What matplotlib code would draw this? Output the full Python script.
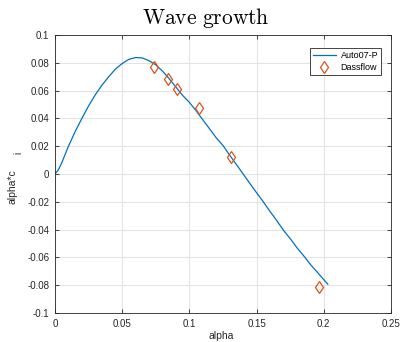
import matplotlib
matplotlib.use("Agg")
import matplotlib.pyplot as plt
from matplotlib.ticker import FuncFormatter, MultipleLocator

# Auto07-P continuation curve
alpha_curve = [0.0, 0.0025, 0.005, 0.0075, 0.01, 0.015, 0.02, 0.025, 0.03, 0.035,
               0.04, 0.045, 0.05, 0.055, 0.06, 0.065, 0.07, 0.075, 0.08, 0.085,
               0.09, 0.095, 0.10, 0.105, 0.11, 0.115, 0.12, 0.125, 0.13, 0.135,
               0.14, 0.145, 0.15, 0.155, 0.16, 0.165, 0.17, 0.175, 0.18, 0.185,
               0.19, 0.195, 0.20, 0.203]
growth_curve = [0.0, 0.003, 0.008, 0.014, 0.020, 0.0305, 0.040, 0.049, 0.057, 0.064,
                0.070, 0.0755, 0.0795, 0.0825, 0.0838, 0.0835, 0.0815, 0.0785, 0.074, 0.0685,
                0.0625, 0.0565, 0.0515, 0.0455, 0.039, 0.0325, 0.026, 0.0205, 0.0135, 0.0068,
                0.0, -0.0068, -0.0135, -0.020, -0.027, -0.0335, -0.0405, -0.0465, -0.053, -0.0588,
                -0.065, -0.0705, -0.076, -0.0793]

# Dassflow points
alpha_dass = [0.0737, 0.0844, 0.0911, 0.1075, 0.131, 0.1968]
growth_dass = [0.0768, 0.0681, 0.0609, 0.0472, 0.0122, -0.081]


def tick_fmt(v, _pos):
    v = round(v, 10)
    if v == 0:
        return "0"
    return f"{v:g}".replace("\u2212", "-")


W, H = 401, 342
fig = plt.figure(figsize=(W / 100, H / 100), dpi=100)
ax = fig.add_axes([55 / W, 1 - 313 / H, (391 - 55) / W, (313 - 35) / H])

plt.rcParams["mathtext.fontset"] = "cm"
plt.rcParams["axes.unicode_minus"] = False
font = "Liberation Sans"

ax.plot(alpha_curve, growth_curve, color="#0072BD", linewidth=0.9, label="Auto07-P")
ax.plot(alpha_dass, growth_dass, linestyle="none", marker="d", markersize=6.5,
        markerfacecolor="none", markeredgecolor="#D95319", markeredgewidth=0.9,
        label="Dassflow")

ax.set_xlim(0, 0.25)
ax.set_ylim(-0.1, 0.1)
ax.xaxis.set_major_locator(MultipleLocator(0.05))
ax.yaxis.set_major_locator(MultipleLocator(0.02))
ax.xaxis.set_major_formatter(FuncFormatter(tick_fmt))
ax.yaxis.set_major_formatter(FuncFormatter(tick_fmt))
ax.grid(True, color="#e3e3e3", linewidth=0.8)
ax.set_axisbelow(True)
ax.tick_params(direction="in", length=3, width=0.6, colors="#262626",
               top=True, right=True, labelsize=7, pad=4)
for lab in ax.get_xticklabels() + ax.get_yticklabels():
    lab.set_fontfamily(font)
for sp in ax.spines.values():
    sp.set_color("#262626")
    sp.set_linewidth(0.6)

leg = ax.legend(loc="upper right", bbox_to_anchor=(0.985, 0.97), fancybox=False,
                framealpha=1, edgecolor="#262626", prop={"family": font, "size": 6.5},
                handlelength=2.6, borderpad=0.35, labelspacing=0.3, handletextpad=0.5)
leg.get_frame().set_linewidth(0.6)

fig.text(206 / W, 1 - 18 / H, r"$\mathrm{Wave\ growth}$", ha="center", va="center",
         fontsize=15.5)
fig.text(221 / W, 1 - 336 / H, "alpha", ha="center", va="center", fontsize=7.5,
         family=font, color="#262626")
fig.text(12 / W, 1 - 187 / H, "alpha*c", ha="center", va="center", rotation=90,
         fontsize=7.5, family=font, color="#262626")
fig.text(18 / W, 1 - 153 / H, "i", ha="center", va="center", rotation=90,
         fontsize=7, family=font, color="#262626")

fig.savefig("out.png", dpi=100)
